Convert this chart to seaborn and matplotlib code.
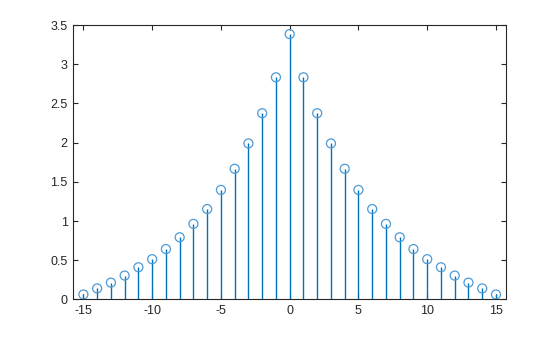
import matplotlib
matplotlib.use("Agg")
import matplotlib.pyplot as plt
import seaborn as sns
import numpy as np
import pandas as pd

x_vals = list(range(-15, 16))
right_half = [3.384, 2.833, 2.375, 1.99, 1.667, 1.397, 1.153, 0.964, 0.793,
              0.643, 0.514, 0.411, 0.305, 0.215, 0.141, 0.064]
y_vals = right_half[:0:-1] + right_half
x_ticks = [-15, -10, -5, 0, 5, 10, 15]
y_ticks = [0, 0.5, 1, 1.5, 2, 2.5, 3, 3.5]
y_tick_labels = ["0", "0.5", "1", "1.5", "2", "2.5", "3", "3.5"]

df = pd.DataFrame({"x": x_vals, "y": y_vals})

sns.set_style("white")
plt.rcParams["font.family"] = ["Liberation Sans", "DejaVu Sans"]

fig = plt.figure(figsize=(5.6, 3.37), dpi=100)
ax = fig.add_axes([0.131, 0.1113, 0.7726, 0.8145])

blue = "#0072BD"
ax.vlines(df["x"], 0, df["y"], color=blue, linewidth=1.0, zorder=2)
sns.scatterplot(data=df, x="x", y="y", ax=ax, marker="o", s=42,
                facecolors="none", edgecolor="#4d9ad6", linewidth=0.9, zorder=3)

ax.set_xlim(-15.73, 15.73)
ax.set_ylim(0, 3.5)
ax.set_xticks(x_ticks)
ax.set_xticklabels([str(t) for t in x_ticks])
ax.set_yticks(y_ticks)
ax.set_yticklabels(y_tick_labels)
ax.set_xlabel("")
ax.set_ylabel("")

for s in ax.spines.values():
    s.set_visible(True)
    s.set_color("#262626")
    s.set_linewidth(0.8)

ax.tick_params(direction="in", length=3.5, width=0.8, color="#262626",
               labelsize=9, labelcolor="#262626",
               top=True, right=True, bottom=True, left=True, pad=4)

fig.savefig("out.png", dpi=100)
